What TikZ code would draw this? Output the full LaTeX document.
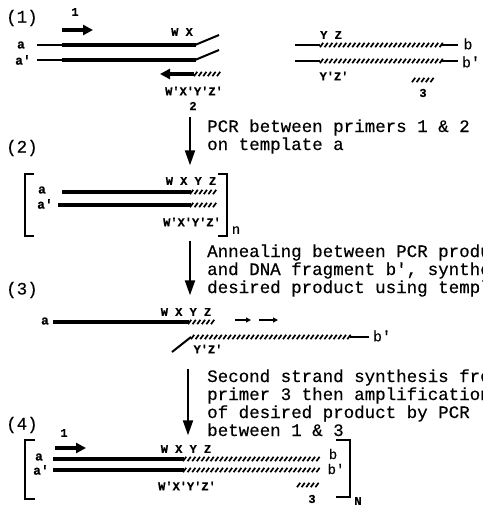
\documentclass[tikz,border=0pt]{standalone}
\usepackage{fontspec}
\setmonofont{Liberation Mono}[FakeBold=0.4]
\usetikzlibrary{arrows.meta}
% a run of short slanted strokes standing for a newly made strand segment
\newcommand\hatchrun[3]{%
  \pgfmathtruncatemacro\hatchn{((#2)-(#1)-3)/4.6}%
  \foreach \hatchi in {0,...,\hatchn}{%
    \draw[hatchstroke] ({#1+\hatchi*4.6},{#3+2.2}) -- ++(3.2,-4.4);}%
}
\begin{document}
\begin{tikzpicture}[x=1pt,y=-1pt,
  hatchstroke/.style={line width=1.7pt},
  dnathick/.style={line width=3.8pt},
  dnathin/.style={line width=1.5pt},
  flowarrow/.style={line width=2pt,-{Triangle[length=15pt,width=10pt]}},
  primerarrow/.style={line width=3.6pt,-{Triangle[length=10pt,width=10pt]}},
  smallarrow/.style={line width=1.6pt,-{Triangle[length=5pt,width=5pt]}},
  bracketline/.style={line width=1.6pt},
  lab/.style={font=\ttfamily\bfseries\fontsize{12}{13}\selectfont,inner sep=0pt},
  strandlab/.style={font=\ttfamily\bfseries\fontsize{13}{14}\selectfont,inner sep=0pt},
  endlab/.style={font=\ttfamily\fontsize{15}{16}\selectfont,inner sep=0pt},
  desc/.style={font=\ttfamily\fontsize{17.5}{16}\selectfont,inner sep=0pt,anchor=base west},
  stage/.style={font=\ttfamily\fontsize{17.5}{16}\selectfont,inner sep=0pt,anchor=west}]
\useasboundingbox[fill=white] (0,0) rectangle (482,506);

% ---------- stage (1): template a/a' and fragment b/b'
\node[stage] (s1) at (6,18) {(1)};
\node[lab] (p1lab) at (75,12) {1};
\draw[primerarrow] (62,30) -- (93,30);
\node[lab] (wx1) at (182,32) {W X};
\node[strandlab] (a1) at (21,45) {a};
\node[strandlab] (ap1) at (23,60) {a'};
\draw[dnathin] (37,45) -- (62,45);
\draw[dnathick] (62,45) -- (196,45);
\draw[line width=2pt] (195,45) -- (219,35);
\draw[dnathin] (37,60) -- (62,60);
\draw[dnathick] (62,60) -- (196,60);
\draw[line width=2pt] (195,60) -- (219,50);
\draw[primerarrow] (194,74) -- (160,74);
\hatchrun{194}{222}{74}
\node[lab] (wxyz1) at (194,91) {W'X'Y'Z'};
\node[lab] (p2lab) at (193,106) {2};

\node[lab] (yz1) at (331,35) {Y Z};
\draw[dnathin] (295,45) -- (320,45);
\hatchrun{320}{443}{45}
\draw[dnathin] (441,45) -- (458,45);
\node[endlab] (b1) at (468,44) {b};
\draw[dnathin] (295,61) -- (320,61);
\hatchrun{320}{443}{61}
\draw[dnathin] (441,61) -- (458,61);
\node[endlab] (bp1) at (471,62) {b'};
\node[lab] (yzp1) at (334,76) {Y'Z'};
\hatchrun{412}{438}{80}
\node[lab] (p3lab) at (423,93) {3};

% ---------- step 1 -> 2
\node[inner sep=0pt] (t1) at (190,116) {};
\node[inner sep=0pt] (h1) at (190,166) {};
\draw[flowarrow] (t1) -- (h1);
\node[desc] (d1a) at (207,132) {PCR between primers 1 \& 2};
\node[desc] (d1b) at (207,150) {on template a};

% ---------- stage (2): PCR product, n copies
\node[stage] (s2) at (6,148) {(2)};
\draw[bracketline] (34,174) -- (25,174) -- (25,236) -- (34,236);
\draw[bracketline] (218,174) -- (227,174) -- (227,236) -- (218,236);
\node[font=\ttfamily\fontsize{14}{14}\selectfont,inner sep=0pt] (n2) at (236,230) {n};
\node[lab] (wxyz2) at (191,181) {W X Y Z};
\node[strandlab] (a2) at (42,190) {a};
\node[strandlab] (ap2) at (45,204) {a'};
\draw[dnathick] (62,192) -- (191,192);
\hatchrun{190}{218}{192}
\draw[dnathick] (58,205) -- (191,205);
\hatchrun{190}{218}{205}
\node[lab] (wxyzp2) at (192,222) {W'X'Y'Z'};

% ---------- step 2 -> 3
\node[inner sep=0pt] (t2) at (190,240) {};
\node[inner sep=0pt] (h2) at (190,296) {};
\draw[flowarrow] (t2) -- (h2);
\node[desc] (d2a) at (207,257) {Annealing between PCR produ};
\node[desc] (d2b) at (207,275) {and DNA fragment b', synthe};
\node[desc] (d2c) at (207,293) {desired product using templ};

% ---------- stage (3): annealed strands
\node[stage] (s3) at (6,290) {(3)};
\node[lab] (wxyz3) at (186,312) {W X Y Z};
\node[strandlab] (a3) at (45,321) {a};
\draw[dnathick] (53,322) -- (189,322);
\hatchrun{188}{217}{322}
\draw[smallarrow] (235,320) -- (251,320);
\draw[smallarrow] (259,320) -- (278,320);
\draw[line width=2pt] (172,352) -- (191,337);
\hatchrun{191}{352}{337}
\draw[dnathin] (350,337) -- (369,337);
\node[endlab] (bp3) at (382,336) {b'};
\node[lab] (yzp3) at (208,349) {Y'Z'};

% ---------- step 3 -> 4
\node[inner sep=0pt] (t3) at (188,368) {};
\node[inner sep=0pt] (h3) at (188,436) {};
\draw[flowarrow] (t3) -- (h3);
\node[desc] (d3a) at (207,382) {Second strand synthesis fro};
\node[desc] (d3b) at (207,400) {primer 3 then amplification};
\node[desc] (d3c) at (207,418) {of desired product by PCR};
\node[desc] (d3d) at (207,436) {between 1 \& 3};

% ---------- stage (4): final product, N copies
\node[stage] (s4) at (6,425) {(4)};
\draw[bracketline] (35,440) -- (25,440) -- (25,499) -- (35,499);
\draw[bracketline] (336,440) -- (350,440) -- (350,497) -- (336,497);
\node[lab] (nn4) at (358,501) {N};
\node[lab] (p1lab4) at (64,433) {1};
\draw[primerarrow] (55,448) -- (86,448);
\node[lab] (wxyz4) at (186,449) {W X Y Z};
\node[strandlab] (a4) at (39,457) {a};
\node[strandlab] (ap4) at (41,470) {a'};
\draw[dnathick] (53,459) -- (184,459);
\hatchrun{183}{324}{459}
\draw[dnathick] (53,470) -- (184,470);
\hatchrun{183}{324}{470}
\node[endlab,font=\ttfamily\fontsize{14}{15}\selectfont] (b4) at (333,454) {b};
\node[endlab,font=\ttfamily\fontsize{14}{15}\selectfont] (bp4) at (336,469) {b'};
\node[lab] (wxyzp4) at (187,486) {W'X'Y'Z'};
\hatchrun{297}{322}{485}
\node[lab] (p3lab4) at (312,499) {3};
\end{tikzpicture}
\end{document}
